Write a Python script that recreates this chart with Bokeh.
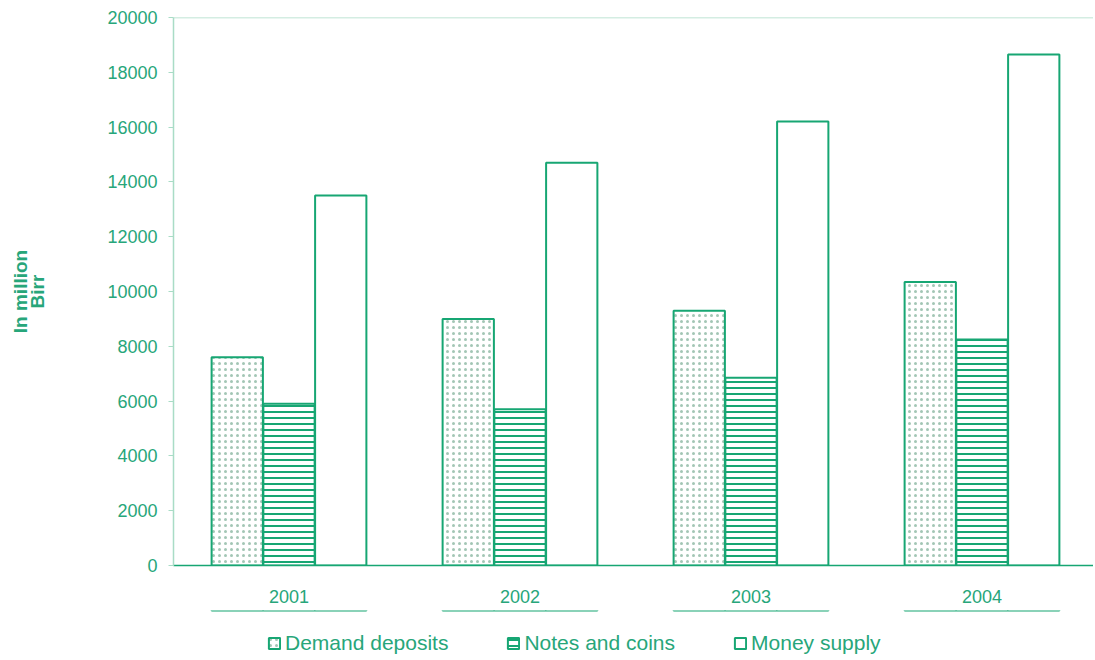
from bokeh.plotting import figure
from bokeh.layouts import column
from bokeh.models import (ColumnDataSource, Range1d, FixedTicker, Legend, LegendItem, Span)
from bokeh.embed import file_html
from bokeh.resources import INLINE

years = ["2001", "2002", "2003", "2004"]
demand_deposits = [7600, 9000, 9300, 10350]
notes_and_coins = [5900, 5700, 6850, 8250]
money_supply = [13500, 14700, 16200, 18650]
y_ticks = [0, 2000, 4000, 6000, 8000, 10000, 12000, 14000, 16000, 18000, 20000]
series_names = ["Demand deposits", "Notes and coins", "Money supply"]
Y_MAX = 20000

GREEN = "#17a673"
TEXT = "#27a67a"
LIGHT = "#a9dcc6"
FONT = "Liberation Sans"

FRAME_W = 920
CAT_PX = 231
LEFT = 173

pos = [i + 0.5 for i in range(len(years))]
W = 0.222
OFF = 0.224

STYLES = [
    dict(fill_color="white", line_color=GREEN, line_width=2, hatch_pattern="dot",
         hatch_color="#a3c6b5", hatch_scale=6, hatch_weight=1.1),
    dict(fill_color="white", line_color=GREEN, line_width=2, hatch_pattern="horizontal_line",
         hatch_color=GREEN, hatch_scale=6, hatch_weight=2),
    dict(fill_color="white", line_color=GREEN, line_width=2),
]

src = ColumnDataSource(dict(
    x_d=[p_ - OFF for p_ in pos], x_n=pos, x_m=[p_ + OFF for p_ in pos],
    d=demand_deposits, n=notes_and_coins, m=money_supply))
COLS = [("x_d", "d"), ("x_n", "n"), ("x_m", "m")]

p = figure(frame_width=FRAME_W, frame_height=548,
           output_backend="svg", toolbar_location=None,
           x_range=Range1d(0, FRAME_W / CAT_PX), y_range=Range1d(0, Y_MAX),
           min_border_left=LEFT, min_border_right=0, min_border_top=17, min_border_bottom=45)
p.background_fill_color = "white"
p.border_fill_color = "white"
p.outline_line_color = None
p.grid.grid_line_color = None

for (xc, yc), st in zip(COLS, STYLES):
    p.vbar(x=xc, top=yc, width=W, source=src, **st)

p.add_layout(Span(location=Y_MAX, dimension="width", line_color=LIGHT, line_width=1.5))

# y axis
ya = p.yaxis[0]
ya.ticker = FixedTicker(ticks=y_ticks)
ya.axis_line_color = LIGHT
ya.axis_line_width = 1.5
ya.major_tick_line_color = LIGHT
ya.major_tick_out = 5
ya.major_tick_in = 0
ya.minor_tick_line_color = None
ya.major_label_text_color = TEXT
ya.major_label_text_font = FONT
ya.major_label_text_font_size = "18px"
ya.major_label_standoff = 11
ya.axis_label = "In million\nBirr"
ya.axis_label_text_color = TEXT
ya.axis_label_text_font = FONT
ya.axis_label_text_font_size = "19px"
ya.axis_label_text_font_style = "bold"
ya.axis_label_text_line_height = 0.85
ya.axis_label_standoff = 56

# x axis
xa = p.xaxis[0]
xa.ticker = FixedTicker(ticks=pos)
xa.major_label_overrides = {p_: y for p_, y in zip(pos, years)}
xa.axis_line_color = GREEN
xa.axis_line_width = 1.5
xa.major_tick_line_color = None
xa.minor_tick_line_color = None
xa.major_label_text_color = TEXT
xa.major_label_text_font = FONT
xa.major_label_text_font_size = "18px"
xa.major_label_standoff = 18

# legend strip below the chart: same bars, drawn outside this strip's (negative) y range,
# so only their legend swatches show
pl = figure(frame_width=FRAME_W, frame_height=45, output_backend="svg", toolbar_location=None,
            x_range=Range1d(0, FRAME_W / CAT_PX), y_range=Range1d(-2, -1),
            x_axis_location=None, y_axis_location=None,
            min_border_left=LEFT, min_border_right=0, min_border_top=0, min_border_bottom=0)
pl.outline_line_color = None
pl.grid.grid_line_color = None
pl.background_fill_color = "white"
pl.border_fill_color = "white"
swatches = [pl.vbar(x=xc, top=yc, width=W, source=src, **st) for (xc, yc), st in zip(COLS, STYLES)]

legend = Legend(items=[LegendItem(label=n, renderers=[r]) for n, r in zip(series_names, swatches)],
                orientation="horizontal", location=(94, 0))
legend.border_line_color = None
legend.background_fill_alpha = 0
legend.label_text_color = TEXT
legend.label_text_font = FONT
legend.label_text_font_size = "21px"
legend.label_height = 20
legend.glyph_width = 14
legend.glyph_height = 14
legend.spacing = 58
legend.label_standoff = 4
legend.margin = 0
legend.padding = 4
pl.add_layout(legend, "center")

layout = column(p, pl, spacing=0)
open("out.html", "w").write(file_html(layout, INLINE))
